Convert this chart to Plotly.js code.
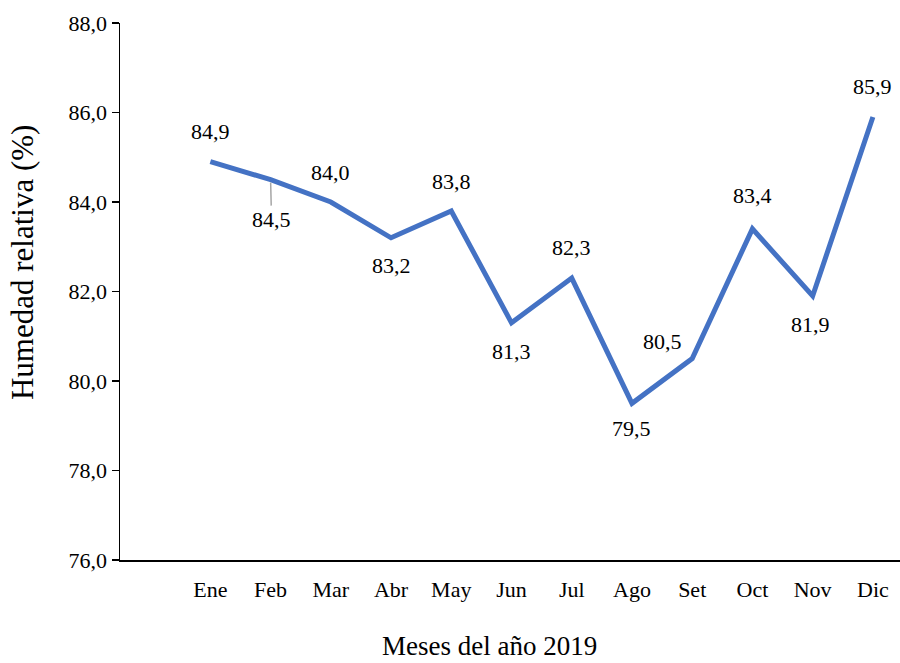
<!DOCTYPE html>
<html>
<head>
<meta charset="utf-8">
<script src="https://cdn.plot.ly/plotly-3.0.1.min.js"></script>
<style>html,body{margin:0;padding:0;background:#fff;}#chart{width:900px;height:663px;}</style>
</head>
<body>
<div id="chart"></div>
<script>
// Data
var months = ["Ene","Feb","Mar","Abr","May","Jun","Jul","Ago","Set","Oct","Nov","Dic"];
var humidity = [84.9, 84.5, 84.0, 83.2, 83.8, 81.3, 82.3, 79.5, 80.5, 83.4, 81.9, 85.9];
var yTickValues = [76, 78, 80, 82, 84, 86, 88];
var xTitle = 'Meses del año 2019';
var yTitle = 'Humedad relativa (%)';

// Label placement (styles, px offsets)
var labelXShift = [0, 1, 0, 0, 0, 0, 0, 0, -30, 0, -2, 0];
var labelYShift = [30, -40, 30, -28, 29, -29, 31, -25, 17, 33, -29, 30];

var FONT = "'Liberation Serif', 'Times New Roman', Times, serif";

function fmt(v){ return v.toFixed(1).replace('.', ','); }

var xIdx = months.map(function(m,i){ return i; });

var trace = {
  x: xIdx,
  y: humidity,
  mode: 'lines',
  line: {color: '#4472C4', width: 5},
  hoverinfo: 'skip',
  showlegend: false
};

var annotations = humidity.map(function(v, i){
  var a = {
    x: i, y: v, xref: 'x', yref: 'y',
    text: fmt(v),
    showarrow: false,
    xshift: labelXShift[i],
    yshift: labelYShift[i],
    font: {family: FONT, size: 22, color: '#000'}
  };
  if (i === 1) {
    a.showarrow = true;
    a.ax = labelXShift[i];
    a.ay = -labelYShift[i];
    a.xshift = 0; a.yshift = 0;
    a.arrowhead = 0;
    a.arrowwidth = 1.5;
    a.arrowcolor = '#A6A6A6';
    a.standoff = 3;
  }
  return a;
});

annotations.push({
  xref: 'paper', yref: 'paper', x: 0.474, y: -0.160,
  xanchor: 'center', yanchor: 'middle', showarrow: false,
  text: xTitle, font: {family: FONT, size: 27, color: '#000'}
});
annotations.push({
  xref: 'paper', yref: 'paper', x: -0.1256, y: 0.553,
  xanchor: 'center', yanchor: 'middle', showarrow: false, textangle: -90,
  text: yTitle, font: {family: FONT, size: 31, color: '#000'}
});

var layout = {
  width: 900, height: 663,
  margin: {l: 120, r: 0, t: 23, b: 103},
  paper_bgcolor: '#fff',
  plot_bgcolor: '#fff',
  font: {family: FONT, color: '#000'},
  xaxis: {
    range: [-1.5, 11.45],
    tickvals: xIdx,
    ticktext: months,
    ticks: '',
    showgrid: false,
    zeroline: false,
    showline: true,
    linecolor: '#000',
    linewidth: 1.5,
    ticklabelstandoff: 9,
    tickfont: {family: FONT, size: 22, color: '#000'}
  },
  yaxis: {
    range: [76, 88],
    tickvals: yTickValues,
    ticktext: yTickValues.map(fmt),
    ticks: 'outside',
    ticklen: 7,
    tickwidth: 1.5,
    tickcolor: '#000',
    showgrid: false,
    zeroline: false,
    showline: true,
    linecolor: '#000',
    linewidth: 1.5,
    tickfont: {family: FONT, size: 22, color: '#000'}
  },
  annotations: annotations
};

Plotly.newPlot('chart', [trace], layout, {staticPlot: true, displayModeBar: false});
</script>
</body>
</html>
